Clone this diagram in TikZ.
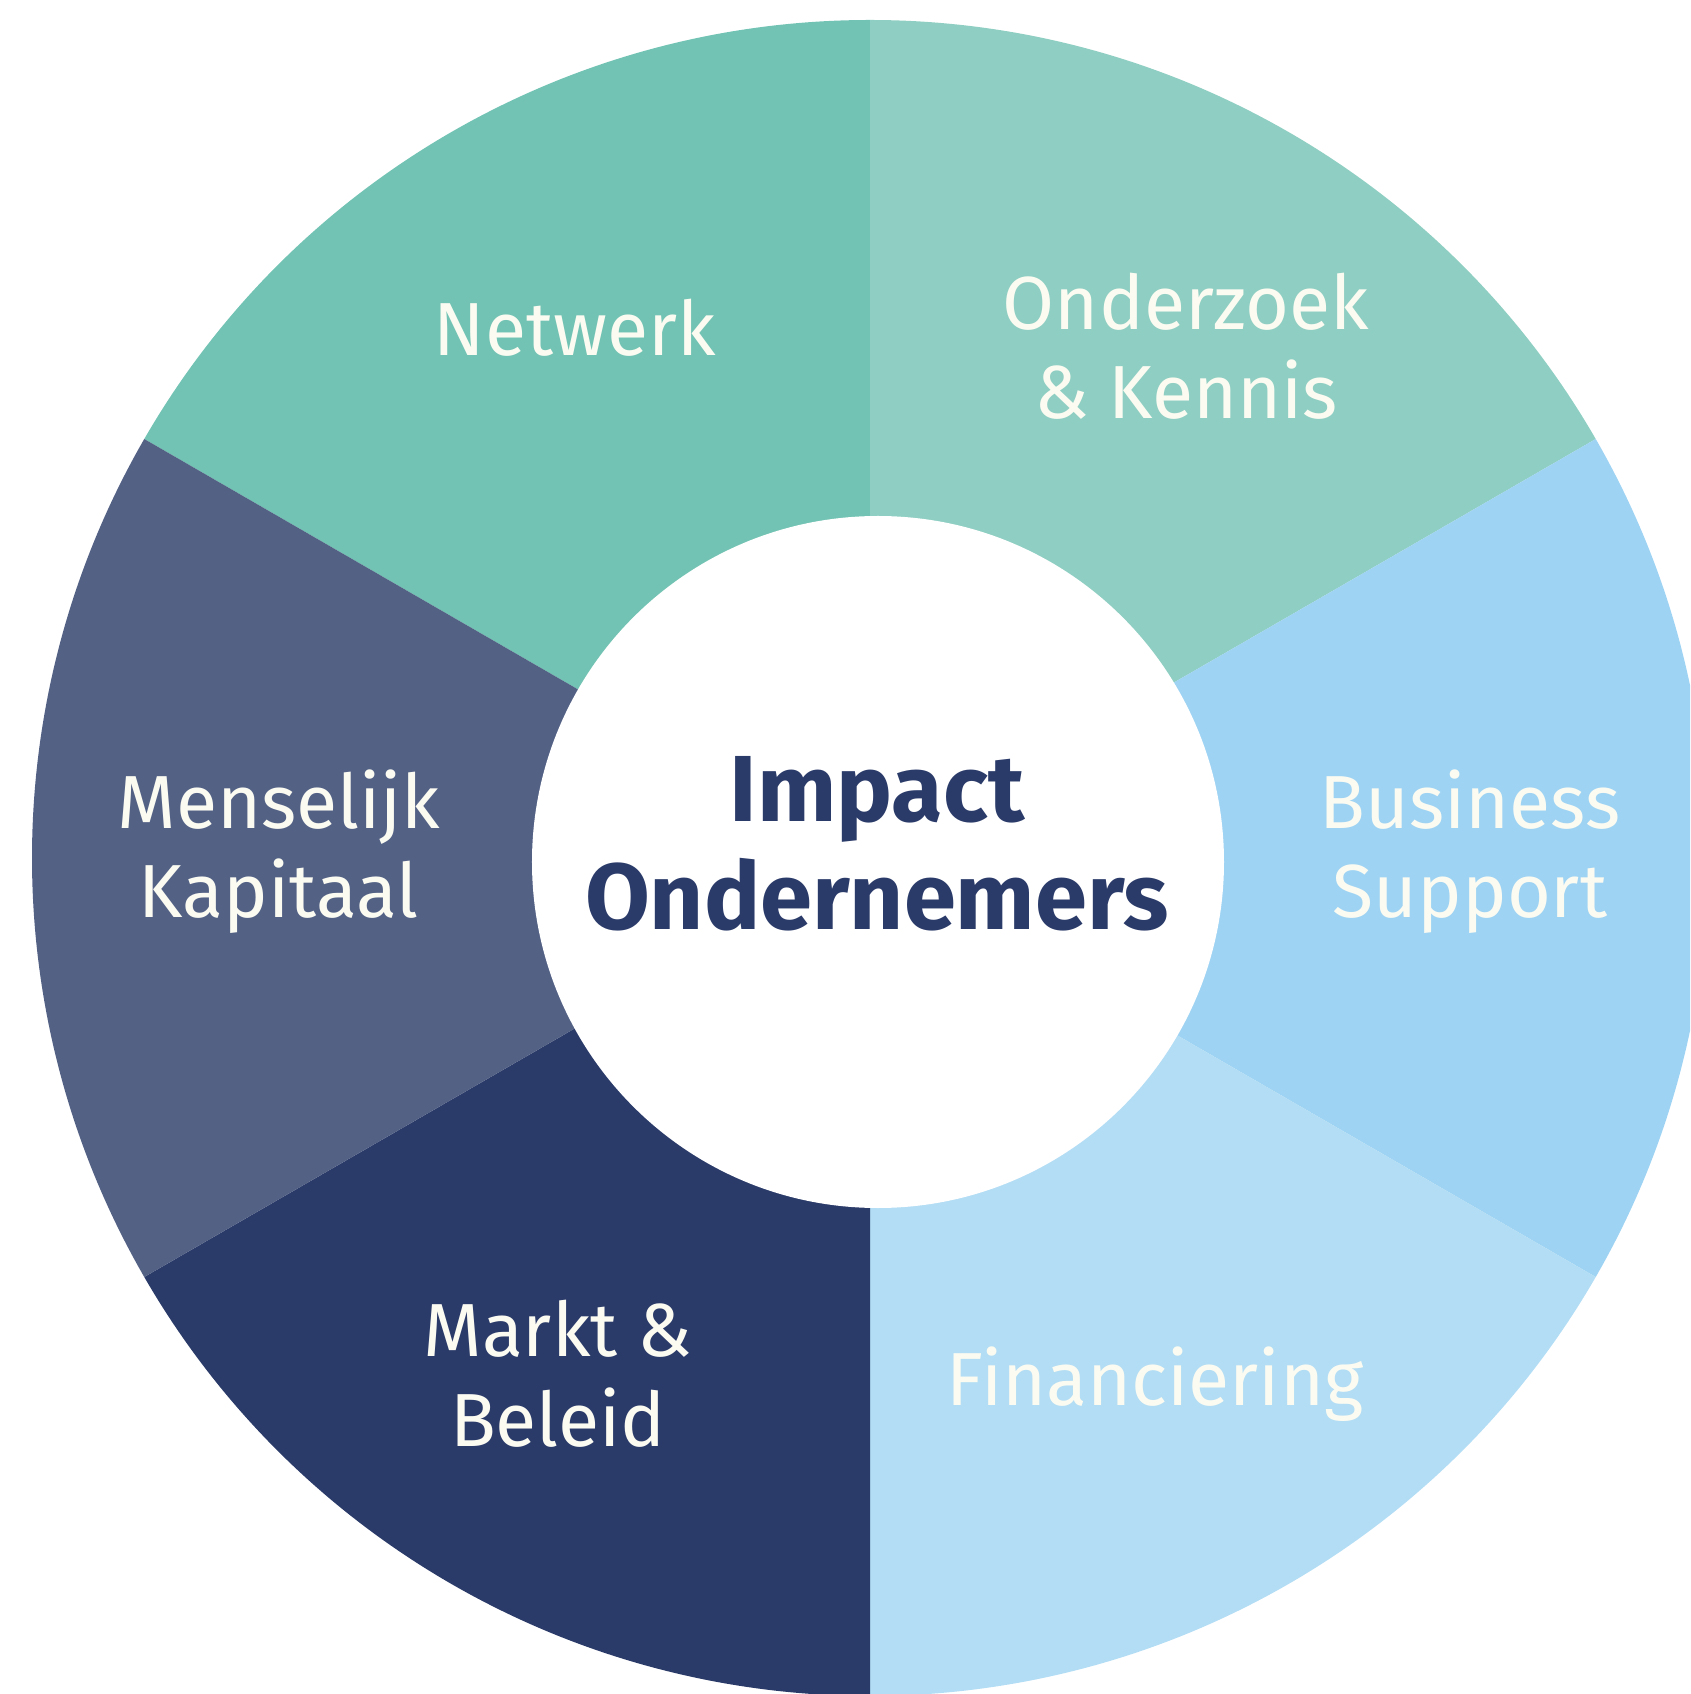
\documentclass[tikz,border=0pt]{standalone}
\usepackage{fontspec}
\setmainfont{Fira Sans}

\definecolor{netwerk}{HTML}{72C3B3}
\definecolor{onderzoek}{HTML}{8FCEC2}
\definecolor{business}{HTML}{9ED3F3}
\definecolor{financiering}{HTML}{B2DDF4}
\definecolor{markt}{HTML}{2A3A69}
\definecolor{menselijk}{HTML}{536185}
\definecolor{labeltext}{HTML}{FBFBF2}

\begin{document}
\begin{tikzpicture}[x=0.01cm, y=0.01cm,
                    every node/.style={inner sep=0pt, align=center},
                    seglabel/.style={text=labeltext, anchor=base, font=\fontsize{21.4}{25.5}\selectfont},
                    hublabel/.style={text=markt, anchor=base, font=\fontsize{26.7}{30.7}\selectfont\bfseries}
                   ]

    % page size of the picture
    \clip (-870,-836) rectangle (820,858);

    % Ring segments, 60 degrees each
    \foreach \a/\c in {90/netwerk, 30/onderzoek, -30/business, -90/financiering, 210/markt, 150/menselijk} {
        \pgfmathtruncatemacro{\b}{\a+60}
        \fill[\c] (0,0) -- (\a:838) arc[start angle=\a, end angle=\b, radius=838] -- cycle;
    }

    % White hub
    \fill[white] (8,-4) circle[radius=346];

    % Segment labels (base = last line)
    \node[seglabel] (net) at (-295, 502) {Netwerk};
    \node[seglabel] (ond) at (316, 439) {Onderzoek\\\& Kennis};
    \node[seglabel] (bus) at (600, -60) {Business\\Support};
    \node[seglabel] (fin) at (285, -547) {Financiering};
    \node[seglabel] (mar) at (-312, -588) {Markt \&\\Beleid};
    \node[seglabel] (men) at (-591, -60) {Menselijk\\Kapitaal};

    % Hub label
    \node[hublabel] (hub) at (7, -71) {Impact\\Ondernemers};

\end{tikzpicture}
\end{document}
